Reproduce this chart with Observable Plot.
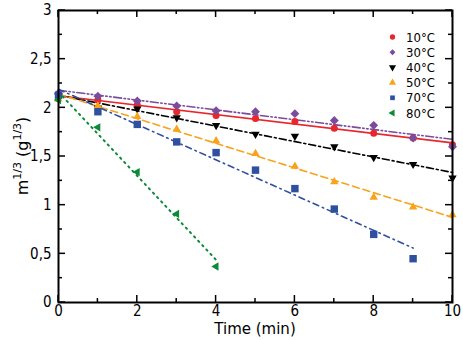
<!DOCTYPE html>
<html><head><meta charset="utf-8">
<script src="https://cdn.jsdelivr.net/npm/d3@7"></script>
<script src="https://cdn.jsdelivr.net/npm/@observablehq/plot@0.6"></script>
<style>body{margin:0;background:#fff}svg{display:block}</style>
</head><body><div id="chart"></div>
<script>
// ---- data ----
const times = [0, 1, 2, 3, 4, 5, 6, 7, 8, 9, 10];
const seriesNames = ["10°C", "30°C", "40°C", "50°C", "70°C", "80°C"];
const m10 = [2.12, 2.08, 2.03, 1.96, 1.92, 1.89, 1.86, 1.79, 1.74, 1.69, 1.62];
const m30 = [2.15, 2.12, 2.07, 2.02, 1.97, 1.96, 1.94, 1.87, 1.82, 1.69, 1.60];
const m40 = [2.12, 2.00, 1.99, 1.90, 1.82, 1.73, 1.71, 1.60, 1.49, 1.42, 1.28];
const m50 = [2.09, 2.02, 1.91, 1.78, 1.66, 1.53, 1.40, 1.24, 1.08, 0.98, 0.90];
const m70 = [2.13, 1.96, 1.83, 1.65, 1.54, 1.36, 1.17, 0.96, 0.70, 0.45];
const m80 = [2.08, 1.80, 1.34, 0.91, 0.37];
const xTicks = [0, 2, 4, 6, 8, 10];
const xMinor = [1, 3, 5, 7, 9];
const yTicks = [0, 0.5, 1, 1.5, 2, 2.5, 3];
const yTickLabels = ["0", "0,5", "1", "1,5", "2", "2,5", "3"];
const yMinor = [0.25, 0.75, 1.25, 1.75, 2.25, 2.75];
const xLabel = "Time (min)";

// ---- styles ----
const seriesValues = [m10, m30, m40, m50, m70, m80];
const colors = ["#e8262b", "#7b4b9e", "#000000", "#f8a31b", "#2f4f9f", "#0b8a3a"];
const symbols = ["circle", "diamond2", "triangle", "triangle", "square", "triangle"];
const rotations = [0, 0, 180, 0, 0, -90];
const radii = [3.5, 4, 3.1, 3.1, 4.2, 3.1];
const dashes = [null, "8,2.5,1.5,2.5,1.5,2.5", "7,3,2,3", "7,4", "6,4,1.5,4", "1.5,4.5"];
const widths = [1.6, 1.6, 1.6, 1.6, 1.6, 2];

const rows = seriesNames.map((s, k) => seriesValues[k].map((v, i) => ({t: times[i], m: v, s})));

const marks = [
  Plot.axisX({ticks: xTicks, tickSize: 0, tickPadding: 3, label: null}),
  Plot.axisY({ticks: yTicks, tickSize: 0, tickPadding: 7, label: null,
    tickFormat: d => yTickLabels[yTicks.indexOf(d)]}),
];
seriesNames.forEach((s, k) => {
  marks.push(Plot.linearRegressionY(rows[k], {x: "t", y: "m", ci: 0, stroke: colors[k],
    strokeWidth: widths[k], strokeDasharray: dashes[k] ?? undefined}));
});
seriesNames.forEach((s, k) => {
  marks.push(Plot.dot(rows[k], {x: "t", y: "m", symbol: symbols[k], r: radii[k], rotate: rotations[k],
    fill: colors[k], stroke: "none"}));
});
marks.push(Plot.frame({stroke: "#000", strokeWidth: 2}));

const plot = Plot.plot({
  width: 463, height: 340,
  marginLeft: 58, marginRight: 11, marginTop: 10, marginBottom: 38,
  style: {fontFamily: "'Liberation Sans Narrow','DejaVu Sans Condensed',sans-serif", fontSize: "15px", color: "#000", background: "#fff"},
  x: {domain: [0, 10]},
  y: {domain: [0, 3]},
  marks
});
document.getElementById("chart").appendChild(plot);

// ---- inward ticks on all four sides ----
const sx = plot.scale("x"), sy = plot.scale("y");
const svg = d3.select(plot);
const g = svg.append("g").attr("stroke", "#000").attr("stroke-width", 1.5);
const yb = sy.apply(0), yt = sy.apply(3), xl = sx.apply(0), xr = sx.apply(10);
[...xTicks.map(v => [v, 7]), ...xMinor.map(v => [v, 4])].forEach(([v, len]) => {
  const x = sx.apply(v);
  g.append("line").attr("x1", x).attr("x2", x).attr("y1", yb).attr("y2", yb - len);
  g.append("line").attr("x1", x).attr("x2", x).attr("y1", yt).attr("y2", yt + len);
});
[...yTicks.map(v => [v, 7]), ...yMinor.map(v => [v, 4])].forEach(([v, len]) => {
  const y = sy.apply(v);
  g.append("line").attr("y1", y).attr("y2", y).attr("x1", xl).attr("x2", xl + len);
  g.append("line").attr("y1", y).attr("y2", y).attr("x1", xr).attr("x2", xr - len);
});

// ---- axis titles ----
svg.append("text").attr("x", (xl + xr) / 2).attr("y", 334).attr("text-anchor", "middle")
  .attr("font-family", "'DejaVu Sans',sans-serif").attr("font-size", 15).attr("fill", "#000").text(xLabel);
const yl = svg.append("text").attr("transform", `translate(28,${(yb + yt) / 2}) rotate(-90)`)
  .attr("text-anchor", "middle").attr("font-family", "'DejaVu Sans',sans-serif").attr("font-size", 16).attr("fill", "#000");
yl.append("tspan").text("m");
yl.append("tspan").attr("font-size", 11).attr("dy", -7).text("1/3");
yl.append("tspan").attr("dy", 7).text(" (g");
yl.append("tspan").attr("font-size", 11).attr("dy", -7).text("1/3");
yl.append("tspan").attr("dy", 7).text(")");

// ---- legend ----
const lg = svg.append("g").attr("font-family", "'DejaVu Sans Condensed','DejaVu Sans',sans-serif")
  .attr("font-size", 13).attr("text-anchor", "start");
const symMap = {circle: d3.symbolCircle, diamond2: d3.symbolDiamond2, triangle: d3.symbolTriangle, square: d3.symbolSquare};
seriesNames.forEach((s, k) => {
  const y = 37 + k * 15.2;
  lg.append("path").attr("d", d3.symbol(symMap[symbols[k]], 22)())
    .attr("transform", `translate(392.5,${y}) rotate(${rotations[k]})`).attr("fill", colors[k]);
  lg.append("text").attr("x", 406).attr("y", y).attr("dy", "0.36em").attr("text-anchor", "start")
    .attr("fill", "#000").text(s);
});
</script>
</body></html>
